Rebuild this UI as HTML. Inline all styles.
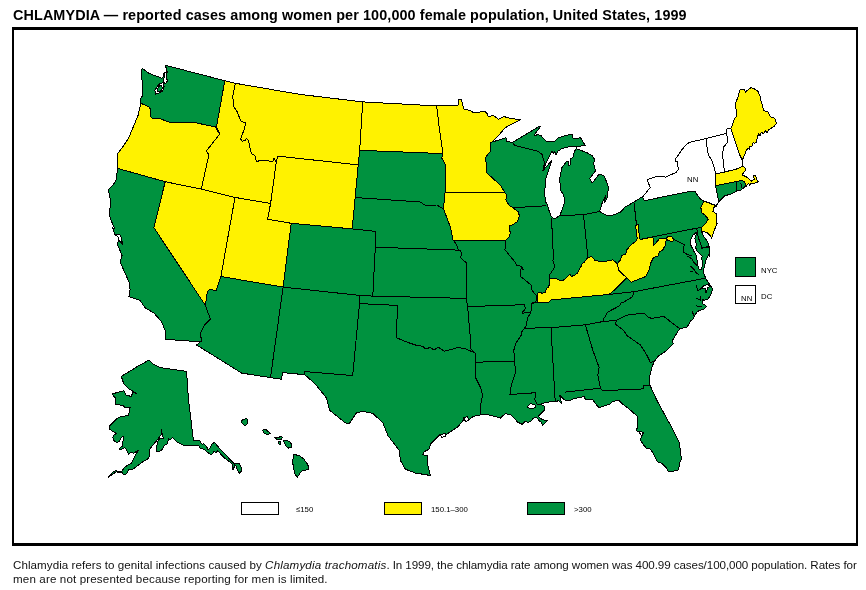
<!DOCTYPE html>
<html><head><meta charset="utf-8"><title>Chlamydia map</title>
<style>
html,body{margin:0;padding:0;background:#fff;}
body{width:866px;height:590px;position:relative;overflow:hidden;font-family:"Liberation Sans",sans-serif;color:#000;}
#frame{position:absolute;left:12px;top:27px;width:842px;height:513px;border:solid #000;border-width:3px 2px;}
#title{position:absolute;left:12.5px;top:7px;font-size:14.4px;font-weight:bold;white-space:nowrap;line-height:16px;letter-spacing:0.1px;}
#cap{position:absolute;left:13px;top:557.5px;font-size:11.6px;line-height:13.6px;white-space:nowrap;color:#111;}
svg{position:absolute;left:0;top:0;will-change:transform;}
#title,#cap{will-change:transform;}
.lb{font-family:"Liberation Sans",sans-serif;font-size:7.8px;fill:#000;}
</style></head><body>
<div id="frame"></div>
<div id="title">CHLAMYDIA — reported cases among women per 100,000 female population, United States, 1999</div>
<svg width="866" height="590" viewBox="0 0 866 590">
<g stroke="#000" stroke-width="1" stroke-linejoin="round" shape-rendering="crispEdges">
<polygon points="142.1,68.3 149.1,73.4 159.2,77.2 161.8,78.4 163.7,76.5 163.7,73.4 166.9,71.4 165.6,65.7 168.1,66.0 224.8,80.7 235.4,83.3 300.0,94.4 362.7,101.9 436.7,105.9 458.1,105.2 458.6,99.7 461.3,99.7 463.7,108.9 470.7,110.8 473.9,113.0 479.0,112.1 484.7,111.4 486.6,112.7 488.5,116.8 492.9,115.3 498.7,119.3 504.4,116.1 506.3,117.5 513.9,118.8 520.5,119.7 507.6,126.1 504.4,128.6 497.4,136.9 492.3,142.0 505.7,137.8 505.7,137.3 507.0,141.7 512.7,142.3 538.1,127.1 540.7,126.2 534.1,135.1 536.2,136.0 536.9,134.7 540.7,135.3 545.8,141.1 554.7,141.1 557.9,137.9 566.1,135.3 572.7,134.1 573.1,138.5 580.7,137.9 585.2,145.5 576.9,146.5 576.3,148.7 586.5,152.5 592.2,155.7 594.7,159.5 593.5,163.3 595.4,171.0 589.6,178.6 592.2,183.0 599.2,174.1 604.3,176.0 608.1,186.2 607.9,196.7 604.1,203.0 605.9,195.0 602.7,201.4 599.5,211.5 607.8,216.0 612.9,215.1 620.5,212.2 625.0,207.1 633.9,202.0 642.1,196.9 642.3,197.5 650.3,187.3 648.6,183.5 647.3,179.7 656.9,176.5 661.3,176.5 665.8,177.1 670.9,174.6 676.0,172.7 678.5,168.9 677.2,164.4 677.9,161.9 675.3,161.9 675.3,159.3 678.5,154.9 682.3,149.2 686.1,144.7 689.5,142.3 706.4,138.5 726.0,133.4 727.0,129.0 730.9,128.3 732.8,124.5 733.4,120.7 736.0,116.9 736.6,111.8 735.6,106.7 736.0,101.6 737.9,97.8 739.8,90.2 741.7,89.2 744.2,89.5 745.5,92.5 747.4,90.2 751.2,87.6 755.0,89.2 758.2,91.4 760.1,96.5 761.4,102.3 763.9,110.5 767.7,111.8 770.5,116.9 774.7,118.1 776.6,123.2 774.1,126.4 769.0,129.6 767.1,132.8 765.5,130.9 763.3,134.0 761.4,132.1 760.1,136.0 758.6,134.0 757.3,137.2 756.3,142.3 754.4,143.6 753.1,142.3 752.2,146.1 749.9,146.8 749.7,149.3 748.0,148.0 746.1,151.2 744.9,153.9 742.3,160.3 742.6,166.4 744.9,167.6 745.5,170.4 743.6,172.3 742.3,174.9 747.4,177.4 749.3,179.3 751.2,181.2 754.4,179.3 753.8,176.8 753.1,175.5 755.7,175.3 756.3,178.7 758.2,181.9 755.0,183.1 750.6,183.8 749.7,185.7 748.7,183.1 746.1,186.3 745.5,186.3 742.3,188.9 739.8,190.8 737.0,190.8 730.9,194.0 724.5,195.9 718.8,201.6 716.9,204.8 716.2,206.7 714.7,205.2 712.8,211.5 716.0,213.4 716.0,221.7 717.2,223.0 714.7,229.3 711.5,238.2 710.2,235.7 707.7,233.1 701.3,230.6 703.2,235.7 707.0,240.8 709.0,245.9 709.6,253.5 709.0,256.7 709.6,253.6 707.7,256.8 705.8,260.6 703.9,268.2 703.2,271.4 703.9,274.0 706.4,279.7 709.0,283.5 711.5,287.3 712.8,289.9 711.5,292.3 710.9,294.9 707.7,299.3 703.9,300.4 702.2,299.1 702.0,303.1 703.9,304.4 706.4,306.3 704.5,308.9 700.7,310.1 697.5,311.4 694.3,315.9 693.7,318.4 690.5,321.0 688.6,324.8 686.7,327.3 679.7,328.6 676.5,333.7 672.7,340.0 673.1,343.8 665.6,351.3 658.1,356.3 654.3,361.3 651.8,367.6 649.3,377.6 650.0,385.2 656.8,400.2 663.6,412.7 670.6,425.4 676.3,436.9 679.5,443.2 680.4,450.9 681.4,459.1 679.5,463.6 678.6,469.9 671.2,471.8 668.0,471.2 666.1,467.4 662.3,463.6 657.2,461.7 654.7,456.6 652.8,452.8 650.2,449.0 648.3,448.3 646.4,448.3 643.2,444.5 640.4,440.1 642.0,435.6 643.9,433.1 640.7,431.2 638.1,431.8 636.2,430.5 637.5,427.3 637.5,416.5 630.5,410.2 621.6,403.2 619.1,400.6 612.7,401.3 610.2,403.8 599.1,407.8 596.6,405.2 592.8,399.7 585.3,399.0 584.0,396.5 572.8,399.0 570.2,400.7 564.7,400.0 559.7,395.2 561.5,403.7 559.0,400.7 555.2,401.5 546.4,402.2 546.1,402.3 539.8,404.4 542.9,405.4 544.6,406.7 544.2,410.5 541.0,413.7 538.5,416.2 541.0,418.8 544.2,420.1 547.4,420.7 544.9,423.2 542.3,425.1 541.7,422.6 539.1,420.7 536.6,417.5 533.4,418.1 531.5,420.7 528.3,422.6 525.1,421.3 522.0,424.3 517.5,422.0 514.3,418.1 511.2,415.0 505.4,413.7 502.3,416.2 500.3,418.1 494.0,416.2 485.7,414.3 480.6,414.8 473.1,416.5 468.1,420.3 464.3,419.0 458.1,426.6 450.5,431.6 445.5,435.4 440.5,434.1 436.7,437.9 430.5,444.1 429.2,449.1 424.2,451.7 422.9,454.9 427.4,455.4 427.9,465.5 430.5,475.5 415.4,473.0 405.4,469.2 400.4,460.4 399.1,450.4 387.8,435.4 382.8,422.8 372.8,413.3 362.7,411.5 356.4,412.8 348.9,424.1 345.2,422.8 329.6,410.3 326.3,397.7 315.1,383.9 304.9,374.8 289.0,373.1 282.6,372.8 281.3,379.2 270.5,377.6 241.7,373.1 196.6,345.0 200.4,341.8 165.7,339.3 165.7,331.7 161.5,321.7 153.9,312.9 145.2,307.9 140.1,300.4 128.9,296.6 130.1,289.1 128.9,281.6 123.8,270.3 120.1,261.5 122.1,255.2 117.6,245.2 118.8,236.4 115.1,235.1 112.5,227.6 114.6,228.6 110.2,218.4 109.5,212.7 110.8,201.9 108.9,192.3 108.9,189.2 112.7,185.3 115.9,180.9 117.6,168.4 117.8,153.4 123.5,145.8 128.6,138.1 133.1,127.3 138.1,115.3 140.8,103.2 140.8,98.1 142.7,95.6 142.1,91.8 142.7,85.4 141.4,75.3" fill="#00923f" />
<polygon points="148.9,360.1 152.7,363.9 160.2,367.6 186.6,371.4 188.3,397.7 193.5,441.0 199.9,440.3 200.5,442.3 202.4,444.8 203.7,443.5 205.6,445.4 206.9,447.3 208.1,449.9 210.1,448.0 212.0,444.2 214.5,442.3 217.0,445.4 220.9,449.9 226.0,455.0 231.0,460.7 233.6,463.2 236.1,463.9 239.3,463.9 241.2,467.7 241.5,470.9 239.3,473.4 237.4,470.2 236.1,466.4 234.9,464.5 233.6,469.0 232.3,469.0 232.9,464.5 229.8,462.0 224.7,458.1 220.9,454.3 217.7,450.5 216.4,452.4 213.9,451.8 212.0,454.3 210.1,454.3 206.9,451.8 203.7,449.2 199.9,448.0 198.6,445.4 193.5,445.4 184.0,445.4 177.6,442.3 173.8,439.1 172.5,437.3 169.9,439.9 168.7,438.6 167.4,443.7 164.2,445.6 162.3,449.4 159.8,451.3 156.6,451.3 156.0,447.5 157.2,444.3 158.2,440.3 160.4,438.2 164.2,439.0 162.3,436.1 161.7,429.1 161.0,434.8 157.2,439.9 150.9,447.5 149.0,450.1 149.6,455.8 147.7,459.0 143.2,461.5 138.8,464.7 133.1,469.1 128.6,469.8 126.7,473.6 123.5,474.9 122.3,472.3 119.1,472.9 116.5,471.7 112.7,474.2 108.3,477.4 109.5,475.5 112.7,472.3 115.9,470.4 119.1,471.7 122.3,471.0 123.5,468.5 127.3,465.3 131.2,463.4 133.1,459.6 135.0,455.8 138.1,450.7 135.6,452.0 133.7,453.2 130.5,452.6 128.6,454.5 126.1,449.4 124.8,447.5 122.3,448.8 119.1,450.1 120.3,447.5 122.3,446.2 122.9,442.4 123.5,436.1 121.6,437.3 119.1,441.8 116.5,442.4 114.0,440.5 112.7,437.3 114.0,434.8 116.5,433.5 112.1,431.0 109.5,429.1 109.5,425.9 112.7,422.7 116.5,418.9 120.3,417.0 128.6,415.1 130.1,407.8 125.1,407.8 122.6,405.2 115.1,404.7 115.1,397.7 112.0,394.0 123.8,390.7 126.3,395.2 131.4,396.5 132.6,392.7 136.4,393.2 128.9,388.9 123.8,383.9 121.3,376.4 127.6,372.6 137.6,366.4" fill="#00923f" />
<polygon points="241.7,420.3 246.8,418.5 248.0,422.8 245.0,425.8 241.7,422.8" fill="#00923f" />
<polygon points="262.6,430.3 265.6,429.1 270.1,433.3 267.6,434.6 264.3,433.3" fill="#00923f" />
<polygon points="274.5,437.7 279.0,437.3 280.9,436.1 282.4,437.3 281.5,439.2 279.0,439.5 276.4,439.0" fill="#00923f" />
<polygon points="278.6,441.6 280.6,441.6 281.1,444.1 279.1,444.1" fill="#00923f" />
<polygon points="283.4,440.5 287.2,440.3 290.4,442.4 291.7,445.0 291.3,447.5 288.5,448.1 286.0,446.2 284.7,443.3" fill="#00923f" />
<polygon points="293.6,454.5 299.3,455.5 303.8,459.0 306.9,463.4 308.6,466.6 308.2,469.8 303.1,470.4 300.6,472.3 298.7,475.5 297.1,477.4 294.9,473.6 293.6,467.9 292.6,462.1" fill="#00923f" />
<polyline points="205.4,305.4 210.4,319.2 204.1,325.5 200.4,333.0 201.6,341.8" fill="none"/>
<polyline points="283.1,287.1 270.6,376.9" fill="none"/>
<polyline points="283.1,287.1 359.5,295.4 372.8,296.1" fill="none"/>
<polyline points="352.2,228.9 376.0,231.4 375.3,247.2 372.8,296.1" fill="none"/>
<polyline points="359.5,295.4 359.5,303.6 352.7,375.6 304.2,371.5 304.9,374.8" fill="none"/>
<polyline points="359.5,303.6 397.3,305.4 396.6,338.0 399.1,338.8 407.9,342.5 415.4,345.0 422.9,346.3 425.4,348.8 430.5,347.5 434.2,350.1 438.0,347.0 444.3,351.3 458.1,347.5 465.6,348.8 475.1,353.1" fill="none"/>
<polyline points="372.8,296.1 466.1,298.4" fill="none"/>
<polyline points="354.7,197.5 420.4,202.0 425.4,205.5 436.7,205.0 443.5,208.8" fill="none"/>
<polyline points="375.3,247.2 460.6,250.2" fill="none"/>
<polyline points="443.5,208.8 446.8,217.6 450.5,227.6 453.0,239.7 456.8,245.2 458.1,249.7 461.8,252.7 460.6,257.7 466.1,262.7 466.1,298.4 467.6,306.6" fill="none"/>
<polyline points="467.6,306.6 524.3,304.7 525.4,308.9 522.4,312.0 522.4,313.1 530.7,312.7" fill="none"/>
<polyline points="467.6,306.6 470.1,335.0 470.6,348.8 475.1,353.1" fill="none"/>
<polyline points="475.6,362.1 514.6,361.6" fill="none"/>
<polyline points="475.1,353.1 475.6,362.1 475.6,377.6 480.6,387.7 482.6,395.2 480.6,405.2 480.6,414.8" fill="none"/>
<polyline points="505.3,240.8 505.0,249.7 509.1,254.8 515.4,262.4 516.7,265.6 521.8,266.2 523.3,270.0 521.2,266.9 520.5,276.4 526.9,281.5 531.3,285.3 532.0,290.4 536.4,295.5 536.4,300.6 534.5,302.5 532.0,303.1 531.7,308.2 530.7,312.7 528.1,317.1 526.9,321.0 526.2,326.0 523.7,329.2 521.2,332.4 521.3,335.0 516.3,342.5 513.8,350.1 514.6,361.6 515.6,372.6 511.3,385.2 510.0,394.5 536.0,392.7 534.7,399.1 537.2,404.2 539.8,404.8" fill="none"/>
<polyline points="532.0,303.1 537.0,302.9" fill="none"/>
<polyline points="512.9,207.7 546.0,205.8" fill="none"/>
<polyline points="512.7,142.3 514.6,145.5 538.1,151.2 542.0,154.4 544.5,162.7 543.2,169.7" fill="none"/>
<polyline points="551.4,218.5 552.3,233.1 553.3,256.0 552.9,261.1 554.9,266.2 552.9,270.0 549.8,274.5 549.8,279.0" fill="none"/>
<polyline points="559.9,215.6 583.5,214.7 599.5,211.5" fill="none"/>
<polyline points="583.5,214.7 585.4,233.1 587.9,257.3" fill="none"/>
<polyline points="633.9,202.4 635.8,217.9 636.4,225.5" fill="none"/>
<polyline points="639.6,239.5 653.6,236.6 700.7,227.4" fill="none"/>
<polyline points="696.9,229.1 698.1,237.0 702.0,247.8 709.0,246.5" fill="none"/>
<polyline points="673.9,239.5 684.1,244.6 683.5,252.2 686.6,254.1 691.7,256.0" fill="none"/>
<polyline points="700.7,248.5 709.0,246.9" fill="none"/>
<polyline points="609.1,294.5 633.9,291.7 704.5,278.4" fill="none"/>
<polyline points="633.9,291.7 632.6,296.8 623.1,302.5 620.5,303.1 619.9,305.7 607.8,312.0 604.0,318.4 602.7,321.6" fill="none"/>
<polyline points="523.7,329.2 526.9,328.2 551.7,327.6 585.4,324.8 602.7,321.6" fill="none"/>
<polyline points="602.7,321.6 616.7,320.3 626.9,315.2 642.1,313.3 645.3,314.0 648.5,317.8 652.3,318.2 663.8,316.5 679.6,328.6" fill="none"/>
<polyline points="616.7,320.3 615.4,324.1 623.7,330.5 626.9,335.6 640.5,345.0 646.8,355.1 650.5,362.6 654.3,361.3" fill="none"/>
<polyline points="551.7,327.6 551.4,335.0 555.2,401.5" fill="none"/>
<polyline points="585.4,324.8 588.3,335.0 592.8,350.1 599.1,367.6 597.8,375.1 600.4,388.2" fill="none"/>
<polyline points="564.7,392.2 600.4,388.2 602.9,390.7 643.0,388.9 643.5,385.2 650.0,385.2" fill="none"/>
<polyline points="736.0,181.6 737.0,190.8" fill="none"/>
<polyline points="740.8,182.9 741.5,187.6 742.6,188.9" fill="none"/>
<polyline points="687.3,256.2 691.8,258.7 694.3,263.1 697.5,265.7" fill="none"/>
<polyline points="690.5,266.3 693.7,268.9 696.2,272.7 698.8,274.6" fill="none"/>
<polyline points="689.5,271.4 693.3,271.0" fill="none"/>
<polyline points="696.2,284.7 697.5,290.4 698.8,291.1" fill="none"/>
<polyline points="695.6,298.7 700.7,299.3" fill="none"/>
<polyline points="700.4,296.5 700.9,300.9" fill="none"/>
<polyline points="695.6,305.7 700.7,307.0 702.6,305.7" fill="none"/>
<polyline points="692.4,311.4 693.7,315.9" fill="none"/>
<polyline points="715.6,185.7 736.0,181.6 742.3,180.4" fill="none"/>
<polygon points="576.3,146.8 569.3,146.8 562.3,148.3 557.9,151.2 556.0,154.4 554.7,151.9 553.4,153.1 552.1,151.2 550.2,154.4 547.7,159.5 545.1,165.2 542.6,171.0 552.1,160.1 550.2,165.9 548.3,171.0 545.8,178.6 544.8,190.0 545.2,203.0 546.6,202.6 548.5,209.0 551.0,216.0 553.6,218.5 556.1,217.9 559.9,215.3 562.5,209.0 565.0,200.7 563.5,195.0 560.4,190.0 559.8,178.6 561.7,167.8 566.1,162.0 568.0,160.8 568.7,165.9 569.9,165.9 570.6,158.9 573.1,157.0 574.4,151.2 576.3,148.7" fill="#fff" />
<polygon points="696.0,232.4 693.1,235.2 690.9,239.2 690.3,243.1 691.3,246.4 693.3,249.4 694.1,251.7 696.1,255.3 696.9,259.1 697.4,264.4 699.2,269.5 701.7,269.8 702.5,263.1 701.8,258.1 702.3,256.2 699.7,253.6 696.9,250.7 695.4,246.9 696.9,245.3 695.6,242.2 694.8,238.4 696.6,233.6" fill="#fff" />
<polygon points="527.0,406.7 530.9,403.5 534.7,404.8 536.0,406.7 533.4,408.2 529.6,408.2" fill="#fff" />
<polygon points="699.7,289.4 703.9,285.6 708.3,284.1 709.8,286.9 707.3,287.6 706.8,292.3 705.5,292.3 705.8,288.1 702.6,288.7" fill="#fff" />
<polygon points="164.1,72.7 167.1,71.7 166.4,77.8 167.6,81.0 165.1,83.7 163.3,81.9 164.1,77.8" fill="#fff" />
<polygon points="159.9,83.5 163.3,82.6 164.1,86.1 162.8,91.2 158.6,93.3 155.4,94.1 154.9,90.5 157.3,86.1" fill="#fff" />
<polygon points="115.1,234.1 120.6,235.1 122.6,244.2 119.1,240.7 118.1,237.1" fill="#fff" />
<polygon points="639.2,431.5 641.3,431.5 643.2,433.3 641.3,435.6 640.1,433.7" fill="#fff" />
<polygon points="463.6,417.8 467.6,416.5 468.6,420.3 465.6,421.6" fill="#fff" />
<polygon points="440.5,434.8 445.0,433.3 446.0,435.9 442.0,437.4" fill="#fff" />
<polygon points="159.5,85.7 161.8,85.1 162.2,88.6 160.9,90.9 158.0,91.8 157.5,89.0" fill="#00923f" />
<polygon points="140.8,103.2 149.1,107.0 150.3,109.0 151.0,117.2 153.5,118.7 159.2,118.5 169.4,122.1 196.1,122.9 215.2,126.8 219.7,134.1 206.4,151.0 208.9,154.8 201.3,189.1 165.2,181.7 117.6,168.4 117.8,153.4 123.5,145.8 128.6,138.1 133.1,127.3 138.1,115.3" fill="#fff200" />
<polygon points="224.8,80.7 235.4,83.3 233.7,91.5 232.8,96.6 233.3,101.7 233.7,106.8 236.9,111.2 240.7,120.8 245.8,123.1 244.5,128.4 243.9,130.0 240.7,138.9 242.0,141.2 245.1,140.8 246.4,138.6 248.6,140.2 249.6,146.5 251.5,153.5 254.7,155.4 256.6,161.8 259.8,160.5 266.1,160.5 272.5,161.8 274.0,158.6 276.3,162.0 270.6,203.5 235.0,197.4 201.3,189.1 208.9,154.8 206.4,151.0 219.7,134.1 216.5,126.5" fill="#fff200" />
<polygon points="276.3,162.0 274.0,158.6 272.5,161.8 266.1,160.5 259.8,160.5 256.6,161.8 254.7,155.4 251.5,153.5 249.6,146.5 248.6,140.2 246.4,138.6 245.1,140.8 242.0,141.2 240.7,138.9 243.9,130.0 244.5,128.4 245.8,123.1 240.7,120.8 236.9,111.2 233.7,106.8 233.3,101.7 232.8,96.6 233.7,91.5 235.4,83.3 300.0,94.4 362.7,101.9 359.7,150.3 358.2,164.9 277.8,156.1" fill="#fff200" />
<polygon points="277.8,156.1 358.2,164.9 352.2,228.9 291.2,223.3 267.6,219.3 270.6,203.5 276.3,162.0" fill="#fff200" />
<polygon points="165.2,181.7 201.3,189.1 235.0,197.4 220.9,276.5 215.9,290.8 209.9,289.1 207.4,291.6 205.4,305.4 153.9,227.6" fill="#fff200" />
<polygon points="235.0,197.4 270.6,203.5 267.6,219.3 291.2,223.3 283.1,287.1 220.9,276.5" fill="#fff200" />
<polygon points="362.7,101.9 436.7,105.9 439.2,127.8 443.0,153.6 359.7,150.3" fill="#fff200" />
<polygon points="436.7,105.9 458.1,105.2 458.6,99.7 461.3,99.7 463.7,108.9 470.7,110.8 473.9,113.0 479.0,112.1 484.7,111.4 486.6,112.7 488.5,116.8 492.9,115.3 498.7,119.3 504.4,116.1 506.3,117.5 513.9,118.8 520.5,119.7 507.6,126.1 504.4,128.6 497.4,136.9 492.3,142.0 490.7,142.8 490.2,151.6 485.1,157.9 486.9,165.4 486.9,172.9 500.7,185.5 504.5,192.2 445.0,193.0 445.0,164.1 441.7,157.9 443.0,153.6 439.2,127.8" fill="#fff200" />
<polygon points="445.0,193.0 504.5,192.2 506.5,195.0 505.9,200.1 509.1,205.2 512.9,207.7 518.0,211.5 519.5,216.0 517.3,221.7 512.3,224.9 509.1,226.2 510.3,233.1 509.1,237.0 505.3,240.8 453.0,240.2 450.5,227.6 446.8,217.6 443.5,208.8" fill="#fff200" />
<polygon points="537.0,302.9 537.0,295.5 538.3,292.0 542.1,293.2 545.6,292.3 546.2,288.5 548.7,287.3 549.5,282.8 549.8,279.0 555.5,278.4 559.3,280.0 563.1,280.3 566.3,277.7 570.1,273.9 571.4,276.4 576.5,274.5 579.0,270.1 581.8,265.0 580.9,264.9 584.1,262.4 587.9,257.3 591.7,256.7 595.1,260.5 602.7,261.8 609.1,260.5 612.9,259.9 617.3,263.7 618.6,270.0 619.2,270.7 623.7,275.2 626.9,277.7 620.5,284.1 615.4,289.2 609.1,294.5 590.0,296.2 551.0,300.0 548.5,302.5" fill="#fff200" />
<polygon points="635.8,225.3 638.3,224.6 638.8,231.9 640.1,239.5 652.9,237.0 653.6,245.2 654.9,244.0 659.3,238.9 664.4,238.2 666.3,238.9 667.6,236.3 671.4,236.3 673.9,239.5 672.7,242.0 669.5,240.8 666.3,239.5 665.0,245.9 662.5,250.3 659.3,252.2 658.0,256.0 653.6,257.3 651.0,262.4 649.1,270.0 648.5,271.4 646.0,276.4 631.3,282.2 626.9,277.7 623.7,275.2 619.2,270.7 618.6,270.0 617.3,263.7 620.5,259.9 621.8,255.4 625.6,254.1 626.9,249.7 630.7,245.2 635.8,241.4 637.3,238.2 636.3,233.1" fill="#fff200" />
<polygon points="703.9,201.1 714.7,205.2 712.8,211.5 716.0,213.4 716.0,221.7 717.2,223.0 714.7,229.3 711.5,238.2 710.2,235.7 707.7,233.1 701.3,230.6 702.0,226.8 705.8,223.0 708.3,219.2 705.1,215.3 701.3,212.2 700.9,207.1" fill="#fff200" />
<polygon points="715.6,174.2 724.5,172.0 736.0,169.2 742.6,166.4 744.9,167.6 745.5,170.4 743.6,172.3 742.3,174.9 747.4,177.4 749.3,179.3 751.2,181.2 754.4,179.3 753.8,176.8 753.1,175.5 755.7,175.3 756.3,178.7 758.2,181.9 755.0,183.1 750.6,183.8 749.7,185.7 748.7,183.1 746.1,186.3 744.6,181.9 742.3,180.4 736.0,181.6 715.6,185.7" fill="#fff200" />
<polygon points="730.9,128.3 732.8,124.5 733.4,120.7 736.0,116.9 736.6,111.8 735.6,106.7 736.0,101.6 737.9,97.8 739.8,90.2 741.7,89.2 744.2,89.5 745.5,92.5 747.4,90.2 751.2,87.6 755.0,89.2 758.2,91.4 760.1,96.5 761.4,102.3 763.9,110.5 767.7,111.8 770.5,116.9 774.7,118.1 776.6,123.2 774.1,126.4 769.0,129.6 767.1,132.8 765.5,130.9 763.3,134.0 761.4,132.1 760.1,136.0 758.6,134.0 757.3,137.2 756.3,142.3 754.4,143.6 753.1,142.3 752.2,146.1 749.9,146.8 749.7,149.3 748.0,148.0 746.1,151.2 744.9,153.9 742.3,160.3 739.8,155.0" fill="#fff200" />
<polygon points="642.1,196.9 644.7,200.7 680.0,193.3 692.7,191.0 695.3,191.4 696.5,194.0 700.3,199.0 704.2,201.0 714.3,204.8 716.2,206.7 716.9,204.8 718.8,201.6 717.5,195.9 715.6,185.7 715.6,174.2 714.3,167.9 712.4,161.5 708.6,155.2 707.3,151.2 706.4,138.5 689.5,142.3 686.1,144.7 682.3,149.2 678.5,154.9 675.3,159.3 675.3,161.9 677.9,161.9 677.2,164.4 678.5,168.9 676.0,172.7 670.9,174.6 665.8,177.1 661.3,176.5 656.9,176.5 647.3,179.7 648.6,183.5 650.3,187.3 642.3,197.5" fill="#fff" />
<polygon points="706.4,138.5 726.0,133.4 727.0,136.0 727.7,142.3 723.9,146.8 722.6,152.6 723.2,161.5 724.5,172.0 715.6,174.2 714.3,167.9 712.4,161.5 708.6,155.2 707.3,151.2" fill="#fff" />
<polygon points="726.0,133.4 727.0,129.0 730.9,128.3 739.8,155.0 742.3,160.3 742.6,166.4 736.0,169.2 724.5,172.0 723.2,161.5 722.6,152.6 723.9,146.8 727.7,142.3 727.0,136.0" fill="#fff" />
</g>
<g stroke="#000" stroke-width="1">
<rect x="735.5" y="257.5" width="20" height="19" fill="#00923f"/>
<rect x="735.5" y="285.5" width="20" height="18" fill="#fff"/>
<rect x="241.5" y="502.5" width="37" height="12" fill="#fff"/>
<rect x="384.5" y="502.5" width="37" height="12" fill="#fff200"/>
<rect x="527.5" y="502.5" width="37" height="12" fill="#00923f"/>
</g>
<text class="lb" x="761" y="273">NYC</text>
<text class="lb" x="761" y="299">DC</text>
<text class="lb" x="741" y="301">NN</text>
<text class="lb" x="687" y="182">NN</text>
<text class="lb" x="296" y="512">≤150</text>
<text class="lb" x="431" y="512">150.1–300</text>
<text class="lb" x="574" y="512">&gt;300</text>
</svg>
<div id="cap"><span style="letter-spacing:0.055px">Chlamydia refers to genital infections caused by </span><i style="letter-spacing:0.16px">Chlamydia trachomatis</i><span style="letter-spacing:-0.075px">. In 1999, the chlamydia rate among women was 400.99 cases/100,000 population. Rates for</span><br><span style="letter-spacing:0.135px">men are not presented because reporting for men is limited.</span></div>
</body></html>
